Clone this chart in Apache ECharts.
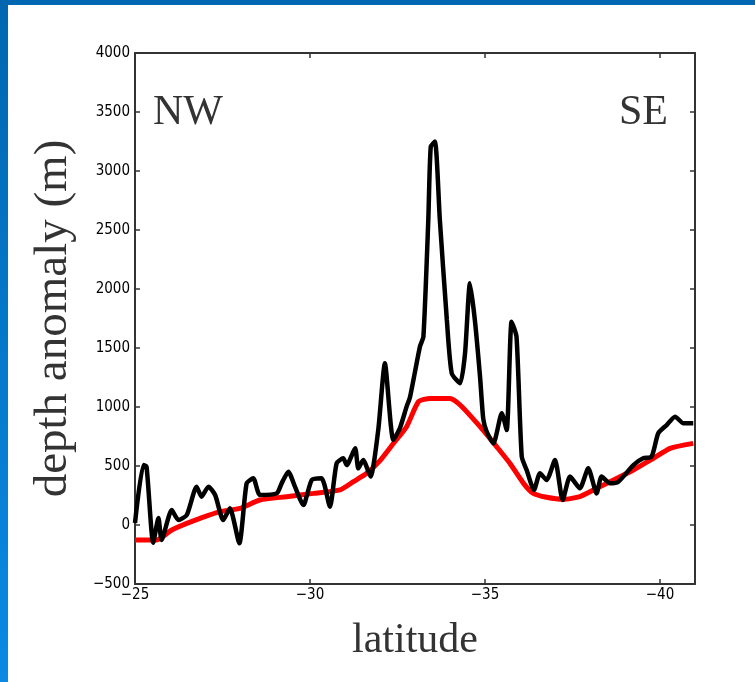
<!DOCTYPE html>
<html>
<head>
<meta charset="utf-8">
<script src="https://cdn.jsdelivr.net/npm/echarts@6/dist/echarts.min.js"></script>
<style>
body{margin:0;background:#fff;}
#wrap{position:relative;width:755px;height:682px;}
#depth_chart{position:absolute;left:0;top:0;width:755px;height:682px;}
.bar_top{position:absolute;left:0;top:0;width:755px;height:5px;background:#0068b2;}
.bar_left{position:absolute;left:0;top:0;width:8px;height:682px;background:linear-gradient(#0066b0,#0a8ae4);}
</style>
</head>
<body>
<div id="wrap">
<div id="depth_chart"></div>
<div class="bar_top"></div>
<div class="bar_left"></div>
</div>
<script>
// black: observed depth anomaly, red: model curve
var blackLat = [-25.00,-25.24,-25.33,-25.52,-25.67,-25.76,-26.05,-26.24,-26.48,-26.76,-26.90,-27.10,-27.29,-27.52,-27.71,-27.98,
	-28.19,-28.38,-28.57,-29.05,-29.19,-29.38,-29.57,-29.81,-30.05,-30.33,-30.57,-30.76,-30.95,-31.05,-31.29,-31.38,-31.52,-31.73,
	-31.95,-32.14,-32.38,-32.57,-32.76,-32.86,-33.14,-33.24,-33.38,-33.45,-33.57,-33.71,-33.91,-34.05,-34.29,-34.43,-34.57,-34.71,
	-34.86,-34.95,-35.05,-35.24,-35.48,-35.62,-35.76,-35.90,-36.05,-36.19,-36.40,-36.57,-36.76,-37.00,-37.22,-37.43,-37.71,-37.95,
	-38.19,-38.33,-38.57,-38.81,-39.24,-39.52,-39.76,-39.95,-40.19,-40.43,-40.67,-40.95];
var blackDepth = [17,508,494,-150,59,-127,127,42,85,325,240,325,254,42,141,-155,
	353,396,254,268,353,452,325,169,381,396,155,523,565,508,650,480,551,410,
	805,1370,720,822,1003,1087,1511,1596,2585,3206,3249,2585,1737,1285,1201,1455,2048,1737,
	1250,900,790,692,947,805,1723,1596,579,466,297,438,381,551,212,410,311,480,
	268,410,353,367,508,565,579,777,847,918,862,862];
var redLat = [-25.00,-25.62,-26.05,-26.48,-26.86,-27.43,-28.00,-28.57,-29.33,-30.10,-30.86,-31.24,-31.62,-32.00,-32.38,-32.76,
	-33.10,-33.43,-34.00,-34.29,-34.86,-35.33,-35.71,-36.10,-36.38,-36.76,-37.24,-37.71,-38.19,-38.67,-39.24,-39.81,-40.29,-40.95];
var redDepth = [-127,-127,-42,14,57,113,141,212,240,268,297,367,438,545,690,833,
	1045,1073,1073,1017,833,664,523,353,268,235,218,240,311,381,466,565,650,692];
var latTicks = [-25,-30,-35,-40];
var topTicks = [-30,-35,-40];

function pairs(xs, ys){
	var out = [];
	for(var i=0;i<xs.length;i++){
		out.push([xs[i], ys[i]]);
	}
	return out;
}
function minus(v){
	return String(v).replace('-', '\u2212');
}

var myChart = echarts.init(document.getElementById("depth_chart"));
var tickFont = {color:'#000', fontSize:15, fontFamily:"'DejaVu Sans Condensed','Liberation Sans Narrow',sans-serif"};
var axisLine = {show:true, onZero:false, lineStyle:{color:'#333', width:2}};
var option = {
	backgroundColor:'#fff',
	animation:false,
	grid:{left:135, right:60, top:53, bottom:98},
	xAxis:[
		{
			type:'value', inverse:true, min:-41, max:-25, position:'bottom',
			axisLine:axisLine, splitLine:{show:false},
			axisTick:{inside:true, length:5, customValues:latTicks, lineStyle:{color:'#333', width:1.5}},
			axisLabel:Object.assign({customValues:latTicks, margin:4, formatter:minus}, tickFont),
			name:'latitude', nameLocation:'middle', nameGap:36,
			nameTextStyle:{fontFamily:"'Liberation Serif','DejaVu Serif',serif", fontSize:42, color:'#333'}
		},
		{
			type:'value', inverse:true, min:-41, max:-25, position:'top',
			axisLine:axisLine, splitLine:{show:false},
			axisTick:{inside:true, length:5, customValues:topTicks, lineStyle:{color:'#333', width:1.5}},
			axisLabel:{show:false}
		}
	],
	yAxis:[
		{
			type:'value', min:-500, max:4000, interval:500, position:'left',
			axisLine:axisLine, splitLine:{show:false},
			axisTick:{inside:true, length:5, lineStyle:{color:'#333', width:1.5}},
			axisLabel:Object.assign({margin:5, formatter:minus}, tickFont),
			name:'depth anomaly (m)', nameLocation:'middle', nameGap:58, nameRotate:90,
			nameTextStyle:{fontFamily:"'Liberation Serif','DejaVu Serif',serif", fontSize:47, color:'#333'}
		},
		{
			type:'value', min:-500, max:4000, interval:500, position:'right',
			axisLine:axisLine, splitLine:{show:false},
			axisTick:{inside:true, length:5, lineStyle:{color:'#333', width:1.5}},
			axisLabel:{show:false}
		}
	],
	graphic:[
		{type:'text', left:153, top:92, style:{text:'NW', fontFamily:"'Liberation Serif',serif", fontSize:42, fill:'#333'}},
		{type:'text', right:87, top:92, style:{text:'SE', fontFamily:"'Liberation Serif',serif", fontSize:42, fill:'#333'}}
	],
	series:[
		{
			name:'model', type:'line', showSymbol:false, smooth:0.2,
			lineStyle:{color:'#ff0000', width:5},
			data:pairs(redLat, redDepth), z:2
		},
		{
			name:'observed', type:'line', showSymbol:false, smooth:0.2,
			lineStyle:{color:'#000', width:4.5},
			data:pairs(blackLat, blackDepth), z:3
		}
	]
};
myChart.setOption(option);
</script>
</body>
</html>
